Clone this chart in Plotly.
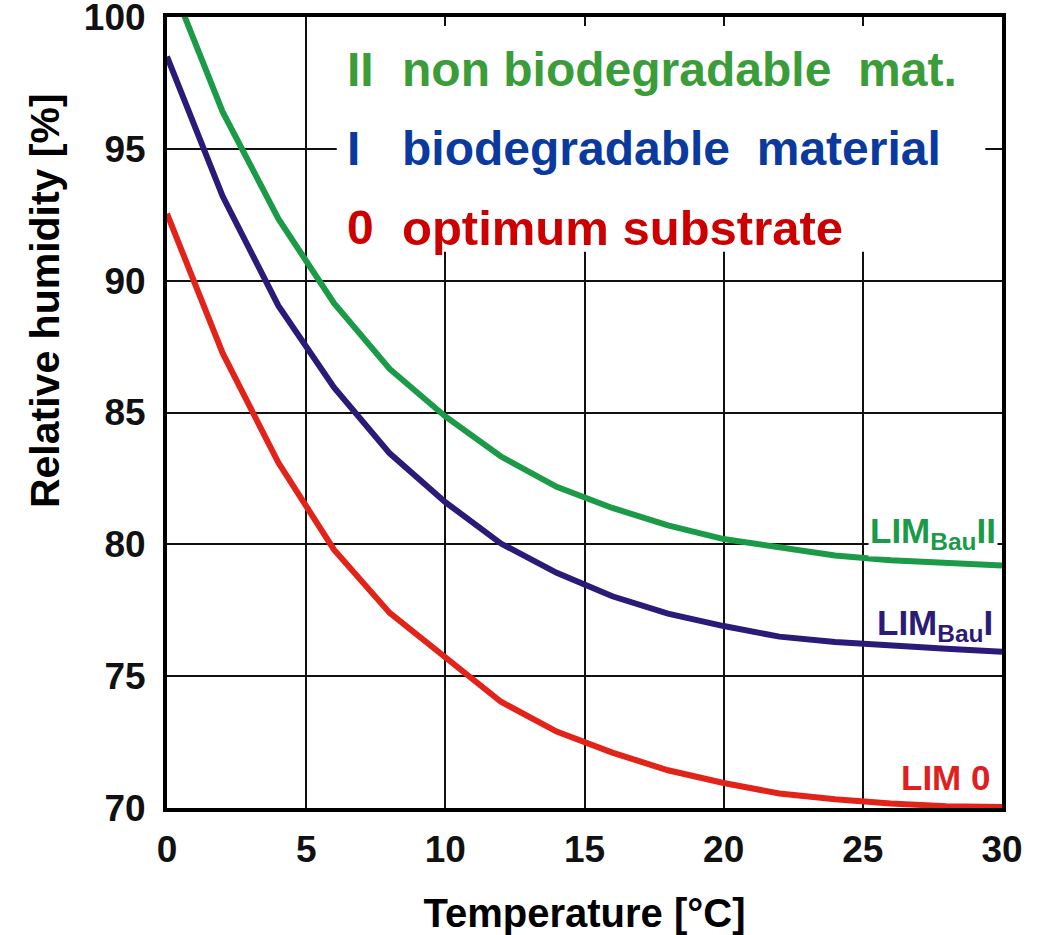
import plotly.graph_objects as go

# Temperature [°C]
temperature = [0, 2, 4, 6, 8, 10, 12, 14, 16, 18, 20, 22, 24, 26, 28, 30]

# Relative humidity [%] limit curves
lim_bau_ii = [101.7, 96.4, 92.35, 89.15, 86.65, 84.85, 83.33, 82.18, 81.38, 80.72, 80.2, 79.88, 79.58, 79.4, 79.28, 79.2]
lim_bau_i = [98.5, 93.2, 89.05, 85.95, 83.45, 81.6, 80.03, 78.92, 78.03, 77.37, 76.9, 76.5, 76.3, 76.15, 76.04, 75.93]
lim_0 = [92.54, 87.25, 83.1, 79.8, 77.4, 75.7, 74.03, 72.9, 72.1, 71.43, 70.95, 70.55, 70.33, 70.17, 70.07, 70.04]

x_ticks = [0, 5, 10, 15, 20, 25, 30]
y_ticks = [70, 75, 80, 85, 90, 95, 100]

C_GREEN = "#1b9a48"
C_INDIGO = "#2b1a78"
C_RED = "#e2231a"
T_GREEN = "#3a9d3a"
T_BLUE = "#0a3a9e"
T_RED = "#cc0000"

FONT = "Liberation Sans, Arial, Helvetica, sans-serif"

fig = go.Figure()
for name, ys, col in [("LIM Bau II", lim_bau_ii, C_GREEN),
                      ("LIM Bau I", lim_bau_i, C_INDIGO),
                      ("LIM 0", lim_0, C_RED)]:
    fig.add_trace(go.Scatter(x=temperature, y=ys, mode="lines", name=name,
                             line=dict(color=col, width=6), showlegend=False))

# white box behind the category labels (hides the grid)
fig.add_shape(type="rect", xref="x", yref="y", x0=6.1, x1=29.4, y0=91.1, y1=99.66,
              fillcolor="white", line=dict(width=0), layer="between")

legend_rows = [("II", "non biodegradable\u00a0\u00a0mat.", T_GREEN, 98.0),
               ("I", "biodegradable\u00a0\u00a0material", T_BLUE, 95.03),
               ("0", "optimum\u00a0substrate", T_RED, 92.0)]
for mark, text, col, yv in legend_rows:
    fig.add_annotation(x=6.4, y=yv, xref="x", yref="y", text=mark, showarrow=False,
                       xanchor="left", yanchor="middle",
                       font=dict(family=FONT, size=48, color=col, weight="bold"))
    fig.add_annotation(x=8.37, y=yv, xref="x", yref="y", text=text, showarrow=False,
                       xanchor="left", yanchor="middle",
                       font=dict(family=FONT, size=48 if mark != "0" else 49, color=col, weight="bold"))

# curve end labels
fig.add_annotation(x=29.85, y=80.43, xref="x", yref="y", text="LIM<sub>Bau</sub>II",
                   showarrow=False, xanchor="right", yanchor="middle", bgcolor="white",
                   borderpad=1, font=dict(family=FONT, size=35, color=C_GREEN, weight="bold"))
fig.add_annotation(x=29.75, y=76.94, xref="x", yref="y", text="LIM<sub>Bau</sub>I",
                   showarrow=False, xanchor="right", yanchor="middle",
                   font=dict(family=FONT, size=35, color=C_INDIGO, weight="bold"))
fig.add_annotation(x=29.65, y=71.14, xref="x", yref="y", text="LIM 0",
                   showarrow=False, xanchor="right", yanchor="middle",
                   font=dict(family=FONT, size=35, color="#dd2020", weight="bold"))

# y axis title
fig.add_annotation(x=-0.146, y=0.641, xref="paper", yref="paper",
                   text="Relative humidity [%]", textangle=-90, showarrow=False,
                   xanchor="center", yanchor="middle",
                   font=dict(family=FONT, size=41, color="black", weight="bold"))

fig.update_xaxes(range=[0, 30], tickvals=x_ticks, ticktext=[str(v) for v in x_ticks],
                 showgrid=True, gridcolor="#111111", gridwidth=2,
                 showline=True, linecolor="black", linewidth=4, mirror=True,
                 zeroline=False, ticks="", ticklabelstandoff=6, ticklabeloverflow="allow",
                 tickfont=dict(family=FONT, size=37, color="#111111", weight="bold"),
                 title=dict(text="Temperature [°C]", standoff=34,
                            font=dict(family=FONT, size=40, color="black", weight="bold")))
fig.update_yaxes(range=[70, 100], tickvals=y_ticks, ticktext=[str(v) for v in y_ticks],
                 showgrid=True, gridcolor="#111111", gridwidth=2,
                 showline=True, linecolor="black", linewidth=4, mirror=True,
                 zeroline=False, ticks="", ticklabelstandoff=10, ticklabeloverflow="allow",
                 tickfont=dict(family=FONT, size=37, color="#111111", weight="bold"))

fig.update_layout(width=1048, height=935, autosize=False,
                  margin=dict(l=167, r=46, t=17, b=127, autoexpand=False),
                  plot_bgcolor="white", paper_bgcolor="white", showlegend=False)

# remove the default page margin so the figure fills the window exactly
fig.write_html("out.html", config={"displayModeBar": False},
               post_script="document.body.style.margin='0';document.body.style.overflow='hidden';")
